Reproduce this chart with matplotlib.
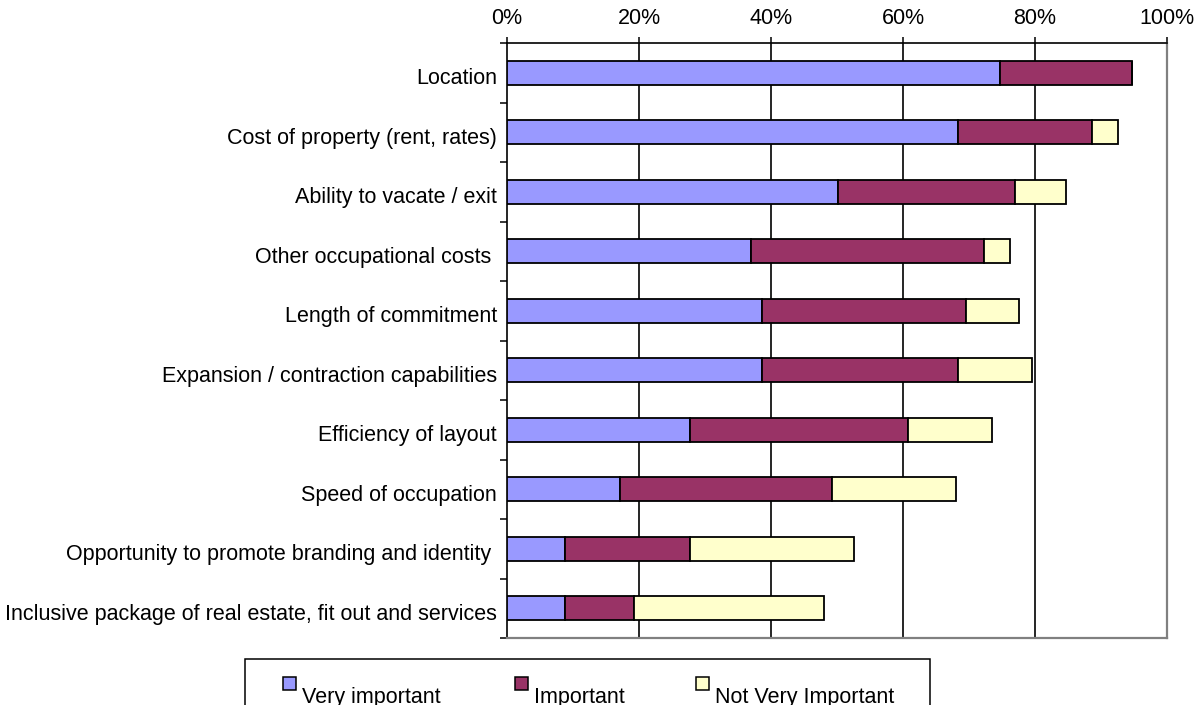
import matplotlib
matplotlib.use("Agg")
import matplotlib.pyplot as plt
from matplotlib.patches import Rectangle
from matplotlib.transforms import offset_copy

categories = [
    "Location",
    "Cost of property (rent, rates)",
    "Ability to vacate / exit",
    "Other occupational costs ",
    "Length of commitment",
    "Expansion / contraction capabilities",
    "Efficiency of layout",
    "Speed of occupation",
    "Opportunity to promote branding and identity ",
    "Inclusive package of real estate, fit out and services",
]
very_important = [74.7, 68.4, 50.1, 37.0, 38.6, 38.6, 27.7, 17.1, 8.8, 8.8]
important = [20.0, 20.2, 26.8, 35.2, 31.0, 29.7, 33.0, 32.1, 18.9, 10.4]
not_very_important = [0.0, 4.0, 7.8, 4.0, 7.9, 11.3, 12.8, 18.8, 24.9, 28.8]
series_names = ["Very important", "Important", "Not Very Important"]
colors = ["#9999FF", "#993366", "#FFFFCC"]
xticks = [0, 20, 40, 60, 80, 100]
xtick_labels = ["0%", "20%", "40%", "60%", "80%", "100%"]

plt.rcParams['font.family'] = ['Liberation Sans', 'DejaVu Sans']
FS = 15.5

W, H = 1203, 705
fig = plt.figure(figsize=(W / 100, H / 100), dpi=100)
ax = fig.add_axes([507 / W, 1 - 638 / H, (1167 - 507) / W, (638 - 43) / H])

ypos = list(range(len(categories)))
left = [0.0] * len(categories)
for vals, name, col in zip([very_important, important, not_very_important], series_names, colors):
    ax.barh(ypos, vals, left=left, height=0.4, color=col, edgecolor="black",
            linewidth=1.3, label=name, zorder=3)
    left = [l + v for l, v in zip(left, vals)]

ax.set_xlim(0, 100)
ax.set_ylim(len(categories) - 0.5, -0.5)

# x axis at top
ax.xaxis.tick_top()
ax.set_xticks(xticks)
ax.set_xticklabels(xtick_labels, fontsize=FS)
ax.tick_params(axis='x', direction='out', length=4, width=1.1, color='black', pad=6)
for x in xticks[1:-1]:
    ax.axvline(x, color='black', linewidth=1.2, zorder=1)

# y ticks at boundaries
bounds = [i - 0.5 for i in range(len(categories) + 1)]
ax.set_yticks(bounds)
ax.set_yticklabels([])
ax.tick_params(axis='y', direction='out', length=5, width=1.1, color='black')

lab_tr = offset_copy(ax.get_yaxis_transform(), fig=fig, x=-10, y=-6, units='dots')
for y, c in zip(ypos, categories):
    ax.text(0, y, c, transform=lab_tr, ha='right', va='center', fontsize=FS)

for s in ['top', 'left']:
    ax.spines[s].set_color('black')
    ax.spines[s].set_linewidth(1.2)
for s in ['right', 'bottom']:
    ax.spines[s].set_color('#808080')
    ax.spines[s].set_linewidth(1.6)

# legend (drawn manually, partially clipped by figure bottom)
ftr = fig.transFigure
def px(x, y):
    return x / W, 1 - y / H

lx0, ly0, lx1, ly1 = 245, 659, 930, 740
fig.patches.append(Rectangle(px(lx0, ly1), (lx1 - lx0) / W, (ly1 - ly0) / H,
                             transform=ftr, facecolor='white', edgecolor='black',
                             linewidth=1.1, zorder=5))
marker_x = [283, 515, 696]
for mx, name, col in zip(marker_x, series_names, colors):
    fig.patches.append(Rectangle(px(mx, 690), 13 / W, 13 / H, transform=ftr,
                                 facecolor=col, edgecolor='black', linewidth=1.1, zorder=6))
    tx, ty = px(mx + 19, 703)
    fig.text(tx, ty, name, fontsize=FS, ha='left', va='baseline', zorder=7)

fig.savefig("out.png", dpi=100)
